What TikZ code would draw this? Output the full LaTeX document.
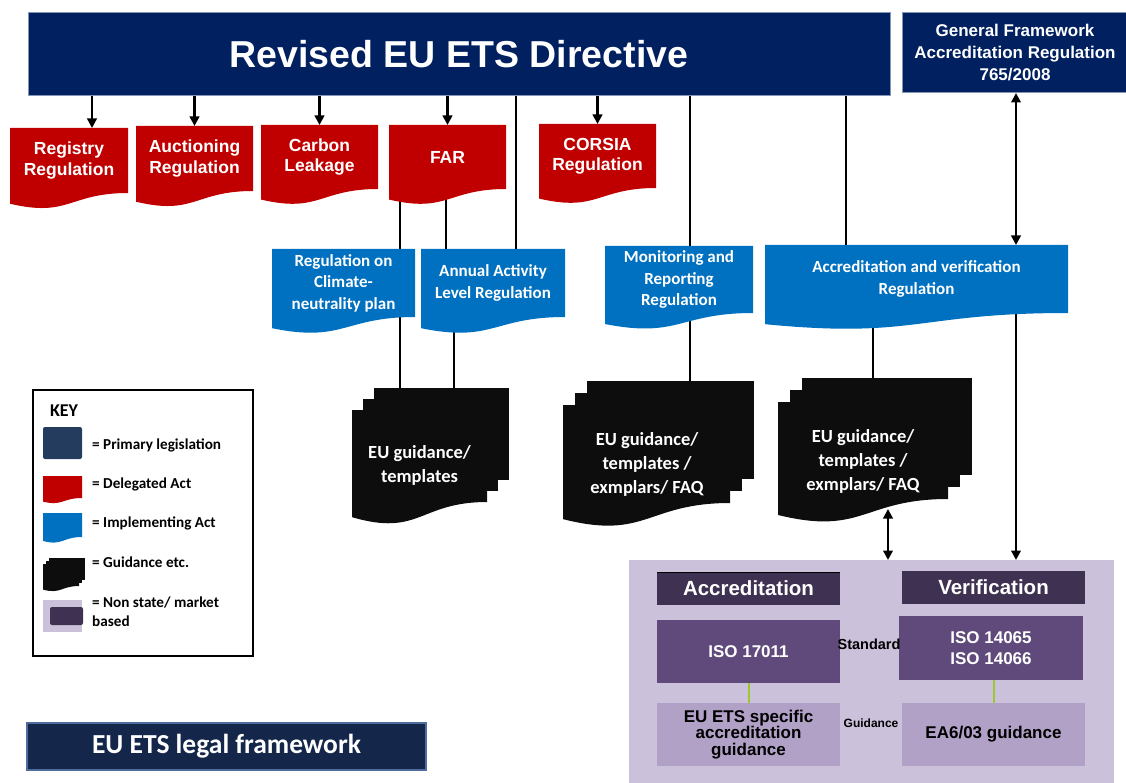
\documentclass[tikz,border=0pt]{standalone}
\usepackage{fontspec}
\setmainfont{Liberation Sans}
\newfontfamily\calib{Carlito}
\usetikzlibrary{calc,arrows.meta}
\pgfdeclarelayer{lines}
\pgfdeclarelayer{shapes}
\pgfsetlayers{lines,shapes,main}
\definecolor{navy}{HTML}{002060}
\definecolor{navyedge}{HTML}{8596B4}
\definecolor{redc}{HTML}{C00000}
\definecolor{bluec}{HTML}{0070C0}
\definecolor{gdc}{HTML}{0D0D0D}
\definecolor{keyprim}{HTML}{243D5E}
\definecolor{lav}{HTML}{CCC1DA}
\definecolor{darkpur}{HTML}{3F3151}
\definecolor{midpur}{HTML}{604A7B}
\definecolor{lightpur}{HTML}{B2A1C7}
\definecolor{greenl}{HTML}{9BC92A}
\definecolor{titlefill}{HTML}{14274A}
\definecolor{titleedge}{HTML}{4E6C9C}
\newcommand\docfill[2]{%
  \begin{pgfonlayer}{shapes}
  \fill[#2] (#1.north west) -- (#1.north east) -- (#1.south east)
    .. controls (#1.south) and ($(#1.south)!-0.381!(#1.north)$)
    .. ($(#1.south west)!-0.1646!(#1.north west)$) -- cycle;
  \end{pgfonlayer}}
\newcommand\multidoc[6]{%
  \node[box, minimum width=#4pt, minimum height=#5pt] (#1) at (#2,#3) {};
  \coordinate (#1-top) at ($(#2,#3)+(2*#6,-2*#6)$);
  \begin{pgfonlayer}{shapes}
  \fill[gdc] ($(#1.north west)+(2*#6,-2*#6)$) rectangle ($(#1.south east)+(2*#6,-2*#6)$);
  \fill[gdc] ($(#1.north west)+(#6,-#6)$) rectangle ($(#1.south east)+(#6,-#6)$);
  \end{pgfonlayer}
  \docfill{#1}{gdc}}
\begin{document}
\begin{tikzpicture}[x=1pt,y=-1pt,
  box/.style={rectangle, inner sep=0pt, outer sep=0pt, anchor=north west, align=center},
  conn/.style={line width=2.3pt, black},
  arr/.style={conn, -{Triangle[length=9.5pt,width=9.5pt]}},
  darr/.style={conn, {Triangle[length=9.5pt,width=9.5pt]}-{Triangle[length=9.5pt,width=9.5pt]}},
  redt/.style={text=white, font=\fontsize{17.5}{20.5}\selectfont\bfseries},
  bluet/.style={text=white, font=\calib\fontsize{17}{21.5}\selectfont\bfseries},
  gdt/.style={text=white, align=center, font=\calib\fontsize{18.5}{24}\selectfont\bfseries},
  keyt/.style={anchor=west, align=left, inner sep=0pt, font=\calib\fontsize{15.2}{19}\selectfont\bfseries},
  purhead/.style={box, fill=darkpur, text=white, minimum width=183pt, minimum height=33pt, font=\fontsize{20.5}{24}\selectfont\bfseries},
  purmid/.style={box, fill=midpur, text=white, minimum width=183pt, minimum height=63pt, font=\fontsize{17}{21}\selectfont\bfseries},
  purlow/.style={box, fill=lightpur, text=black, minimum width=183pt, minimum height=63pt, font=\fontsize{17}{16.5}\selectfont\bfseries},
  ]
\useasboundingbox (0,0) rectangle (1126,783);

% top boxes
\node[box, fill=navy, draw=navyedge, line width=1pt, minimum width=862pt, minimum height=83pt,
  text=white, font=\fontsize{37.5}{40}\selectfont\bfseries] (dir) at (28,13) {Revised EU ETS Directive};
\node[box, fill=navy, draw=navyedge, line width=1pt, minimum width=226pt, minimum height=80pt,
  text=white, font=\fontsize{17}{22}\selectfont\bfseries] (gf) at (902,13)
  {General Framework\\Accreditation Regulation\\765/2008};

% red delegated acts
\node[box, redt, minimum width=118pt, minimum height=65pt] (reg) at (10,128) {Registry\\Regulation};
\node[box, redt, minimum width=117pt, minimum height=65pt] (auc) at (136,126) {Auctioning\\Regulation};
\node[box, redt, minimum width=117pt, minimum height=64pt] (cl) at (261,125) {Carbon\\Leakage};
\node[box, redt, minimum width=117pt, minimum height=64pt] (far) at (389,125) {FAR};
\node[box, redt, minimum width=117pt, minimum height=64pt] (cor) at (539,124) {CORSIA\\Regulation};
\docfill{reg}{redc}\docfill{auc}{redc}\docfill{cl}{redc}\docfill{far}{redc}\docfill{cor}{redc}

% blue implementing acts
\node[box, bluet, minimum width=143pt, minimum height=68pt] (cnp) at (272,249) {Regulation on\\Climate-\\neutrality plan};
\node[box, bluet, minimum width=144pt, minimum height=68pt] (aal) at (421,249) {Annual Activity\\Level Regulation};
\node[box, bluet, minimum width=148pt, minimum height=67pt] (mrr) at (605,246) {Monitoring and\\Reporting\\Regulation};
\node[box, bluet, minimum width=303pt, minimum height=68pt] (avr) at (765,245) {Accreditation and verification\\Regulation};
\docfill{cnp}{bluec}\docfill{aal}{bluec}\docfill{mrr}{bluec}\docfill{avr}{bluec}

% guidance documents
\multidoc{gd1}{352}{410}{135}{92}{11}
\multidoc{gd2}{563}{405}{167}{98}{12}
\multidoc{gd3}{778}{402}{170}{97}{12}
\node[gdt] (gd1t) at (419.5,465) {EU guidance/\\templates};
\node[gdt] (gd2t) at (647,464) {EU guidance/\\templates /\\exmplars/ FAQ};
\node[gdt] (gd3t) at (863,461) {EU guidance/\\templates /\\exmplars/ FAQ};

% market based region
\node[box, fill=lav, minimum width=485pt, minimum height=223pt] (mkt) at (629,560) {};
\node[purhead] (acc) at (657,572) {Accreditation};
\draw[black, line width=0.8pt] (acc.north west) -- (acc.north east);
\node[purhead] (ver) at (902,571) {Verification};
\node[purmid] (iso1) at (657,620) {ISO 17011};
\node[purmid, minimum width=184pt, minimum height=64pt] (iso2) at (899,616) {ISO 14065\\ISO 14066};
\node[purlow] (eue) at (657,703) {EU ETS specific\\accreditation\\guidance};
\node[purlow] (ea) at (902,703) {EA6/03 guidance};
\node[font=\fontsize{14.5}{16}\selectfont\bfseries, inner sep=0pt] (std) at (869,644) {Standard};
\node[font=\fontsize{12}{14}\selectfont\bfseries, inner sep=0pt] (gdn) at (871,723) {Guidance};
\draw[greenl, line width=2pt] (iso1.south) -- (eue.north);
\draw[greenl, line width=2pt] (ea.north |- iso2.south) -- (ea.north);

% key
\node[box, draw=black, line width=2pt, minimum width=220pt, minimum height=266pt] (key) at (33,390) {};
\node[font=\calib\fontsize{18}{20}\selectfont\bfseries, inner sep=0pt] (keyh) at (64,411) {KEY};
\node[box, fill=keyprim, rounded corners=2pt, minimum width=39pt, minimum height=32pt] (keyp) at (43,427) {};
\node[box, minimum width=39pt, minimum height=22pt] (keyd) at (43,476) {};
\node[box, minimum width=39pt, minimum height=24pt] (keyi) at (43,513) {};
\docfill{keyd}{redc}\docfill{keyi}{bluec}
\multidoc{keyg}{43}{564}{36}{22}{3}
\node[box, fill=lav, minimum width=39pt, minimum height=32pt] (keyn) at (43,600) {};
\node[box, fill=darkpur, rounded corners=2pt, minimum width=33pt, minimum height=18pt] (keyn2) at (50,607) {};
\node[keyt] (kt1) at (92,445) {= Primary legislation};
\node[keyt] (kt2) at (92,484) {= Delegated Act};
\node[keyt] (kt3) at (92,523) {= Implementing Act};
\node[keyt] (kt4) at (92,562) {= Guidance etc.};
\node[keyt] (kt5) at (92,611.5) {= Non state/ market\\based};

% title
\node[box, fill=titlefill, draw=titleedge, line width=2pt, minimum width=399pt, minimum height=47pt,
  text=white, font=\calib\fontsize{27.5}{30}\selectfont\bfseries] (title) at (27,723) {EU ETS legal framework};

% connectors
\coordinate (c92) at (92,0);
\coordinate (c400) at (400,0);
\coordinate (c446) at (446,0);
\coordinate (c454) at (454,0);
\coordinate (c516) at (516,0);
\coordinate (c690) at (690,0);
\coordinate (c846) at (846,0);
\coordinate (c873) at (873,0);
\coordinate (c888) at (888,0);
\coordinate (c1016) at (1016,0);
\begin{pgfonlayer}{lines}
\draw[arr] (c92 |- dir.south) -- (c92 |- reg.north);
\draw[arr] (auc.north |- dir.south) -- (auc.north);
\draw[arr] (cl.north |- dir.south) -- (cl.north);
\draw[arr] (far.north |- dir.south) -- (far.north);
\draw[arr] (cor.north |- dir.south) -- (cor.north);
\draw[conn] (c516 |- dir.south) -- (c516 |- aal.north);
\draw[conn] (c690 |- dir.south) -- (c690 |- mrr.north);
\draw[conn] (c846 |- dir.south) -- (c846 |- avr.north);
\draw[conn] (c400 |- far.south) -- (c400 |- gd1-top);
\draw[conn] (c446 |- far.south) -- (c446 |- aal.north);
\draw[conn] (c454 |- aal.south) -- (c454 |- gd1-top);
\draw[conn] (c690 |- mrr.south) -- (c690 |- gd2-top);
\draw[conn] (c873 |- avr.south) -- (c873 |- gd3-top);
\draw[darr] ($(c888 |- gd3.south)+(0,10)$) -- (c888 |- mkt.north);
\draw[darr] (c1016 |- gf.south) -- (c1016 |- avr.north);
\draw[arr] (c1016 |- avr.south) -- (c1016 |- mkt.north);
\end{pgfonlayer}
\end{tikzpicture}
\end{document}
